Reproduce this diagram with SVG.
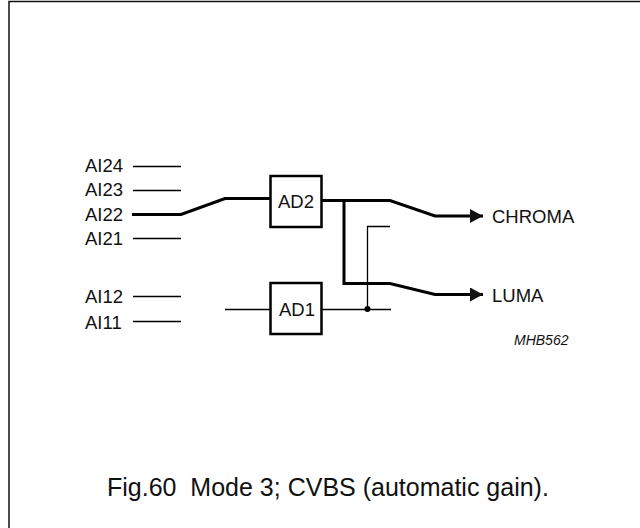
<svg xmlns="http://www.w3.org/2000/svg" width="640" height="528" viewBox="0 0 640 528">
<style>
text{font-family:"Liberation Sans",Arial,sans-serif;fill:#111;white-space:pre}
.l{font-size:18.500px}
.thin,.thick{fill:none;stroke:#000;stroke-linejoin:miter}
.thin{stroke-width:1.300}
.thick{stroke-width:3}
.box{fill:#fff;stroke:#000;stroke-width:2.500}
</style>
<defs><marker id="arr" markerUnits="userSpaceOnUse" markerWidth="14" markerHeight="14" refX="13" refY="7" orient="auto"><path d="M0,0L13,7L0,14Z" fill="#111"/></marker></defs>
<rect x="0" y="0" width="640" height="528" fill="#fff"/>
<path d="M9,528V1.500H640" fill="none" stroke="#111" stroke-width="1.500"/>
<g id="connectors">
<path class="thin" d="M133,166.500H181M133,190.500H181M133,238.500H181M133,296.500H181M133,321.500H181M225,309.500H270M322,309.500H391M367.500,309V226.500H390"/>
<path class="thick" d="M132,214.500H181L225,198.500H270M322,200.500H390L435,216H483" marker-end="url(#arr)"/>
<path class="thick" d="M344,200.500V283.500H390L435,294.500H483" marker-end="url(#arr)"/>
<circle cx="367.500" cy="309" r="3" fill="#000"/>
</g>
<g id="AI24"><text class="l" x="85" y="172">AI24</text></g>
<g id="AI23"><text class="l" x="85" y="196">AI23</text></g>
<g id="AI22"><text class="l" x="85" y="221">AI22</text></g>
<g id="AI21"><text class="l" x="85" y="245">AI21</text></g>
<g id="AI12"><text class="l" x="85" y="302.500">AI12</text></g>
<g id="AI11"><text class="l" x="85" y="329">AI11</text></g>
<g id="AD2"><rect class="box" x="270.500" y="176" width="51" height="51"/><text class="l" x="278" y="208">AD2</text></g>
<g id="AD1"><rect class="box" x="270.500" y="283" width="51" height="51"/><text class="l" x="279" y="315.500">AD1</text></g>
<g id="CHROMA"><text class="l" x="492" y="222.500">CHROMA</text></g>
<g id="LUMA"><text class="l" x="492" y="302">LUMA</text></g>
<text x="514" y="345" font-size="14" font-style="italic">MHB562</text>
<text x="107" y="495.500" font-size="25">Fig.60  Mode 3; CVBS (automatic gain).</text>
</svg>
